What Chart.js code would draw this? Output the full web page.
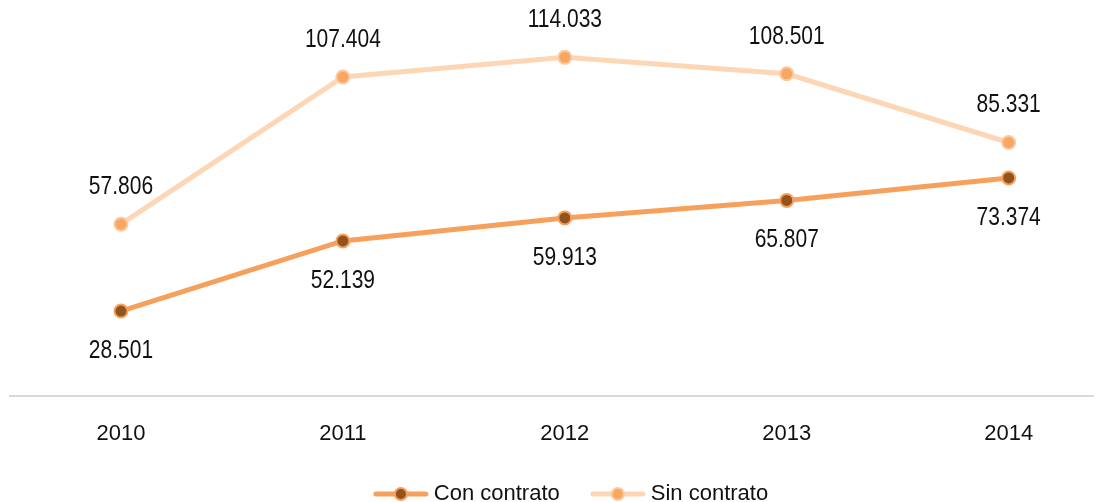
<!DOCTYPE html>
<html>
<head>
<meta charset="utf-8">
<script src="https://cdn.jsdelivr.net/npm/chart.js@4"></script>
<style>
    html, body { margin: 0; padding: 0; background: #fff; }
    #wrap { width: 1109px; height: 502px; }
</style>
</head>
<body>
<div id="wrap"><canvas id="lineChart"></canvas></div>
<script>
const years = ['2010', '2011', '2012', '2013', '2014'];
const conContrato = [28.501, 52.139, 59.913, 65.807, 73.374];
const sinContrato = [57.806, 107.404, 114.033, 108.501, 85.331];

const FONT = "'Liberation Sans', Arial, sans-serif";

function fmt(v) {
    return v.toFixed(3);
}

// legend swatch: short line with a dot in the middle
function legendSwatch(lineColor, fill, border) {
    const c = document.createElement('canvas');
    c.width = 56;
    c.height = 16;
    const g = c.getContext('2d');
    g.strokeStyle = lineColor;
    g.lineWidth = 5;
    g.lineCap = 'round';
    g.beginPath();
    g.moveTo(3, 8);
    g.lineTo(53, 8);
    g.stroke();
    g.beginPath();
    g.arc(28, 8, 6, 0, Math.PI * 2);
    g.fillStyle = fill;
    g.fill();
    g.lineWidth = 2;
    g.strokeStyle = border;
    g.stroke();
    return c;
}

// value labels, squeezed horizontally to look like the narrow face of the original
const valueLabels = {
    id: 'valueLabels',
    afterLayout(chart) {
        // nudge the legend a bit to the right
        if (chart.legend) {
            chart.legend.left += 22;
            chart.legend.right += 22;
        }
    },
    afterDatasetsDraw(chart) {
        const ctx = chart.ctx;
        chart.data.datasets.forEach((ds, i) => {
            const meta = chart.getDatasetMeta(i);
            meta.data.forEach((pt, j) => {
                const dy = ds.labelPos === 'above' ? -37 : 40;
                ctx.save();
                ctx.translate(pt.x, pt.y + dy);
                ctx.scale(0.84, 1);
                ctx.font = '25px ' + FONT;
                ctx.fillStyle = '#111';
                ctx.textAlign = 'center';
                ctx.textBaseline = 'middle';
                ctx.fillText(fmt(ds.data[j].y), 0, 0);
                ctx.restore();
            });
        });
    }
};

function toPoints(arr) {
    return arr.map((v, i) => ({ x: i, y: v }));
}

new Chart(document.getElementById('lineChart'), {
    type: 'line',
    data: {
        datasets: [{
            label: 'Con contrato',
            data: toPoints(conContrato),
            labelPos: 'below',
            borderColor: '#F7A05C',
            borderWidth: 5,
            pointBackgroundColor: '#93531F',
            pointBorderColor: '#F7A05C',
            pointBorderWidth: 2,
            pointRadius: 6.5,
            tension: 0
        }, {
            label: 'Sin contrato',
            data: toPoints(sinContrato),
            labelPos: 'above',
            borderColor: '#FDD7B5',
            borderWidth: 5,
            pointBackgroundColor: '#F8A763',
            pointBorderColor: '#FCC99C',
            pointBorderWidth: 2,
            pointRadius: 6.5,
            tension: 0
        }]
    },
    options: {
        responsive: true,
        maintainAspectRatio: false,
        animation: false,
        layout: { padding: { top: 10, left: 10, right: 16, bottom: -13 } },
        plugins: {
            tooltip: { enabled: false },
            legend: {
                position: 'bottom',
                labels: {
                    font: { family: FONT, size: 22 },
                    color: '#111',
                    usePointStyle: true,
                    pointStyleWidth: 44,
                    padding: 36,
                    boxHeight: 16,
                    generateLabels: function(chart) {
                        return chart.data.datasets.map((ds, i) => ({
                            text: ds.label,
                            datasetIndex: i,
                            fontColor: '#111',
                            pointStyle: legendSwatch(ds.borderColor, ds.pointBackgroundColor, ds.pointBorderColor),
                            lineWidth: 0,
                            strokeStyle: 'rgba(0,0,0,0)',
                            fillStyle: 'rgba(0,0,0,0)'
                        }));
                    }
                }
            }
        },
        scales: {
            x: {
                type: 'linear',
                min: -0.5,
                max: 4.38,
                afterBuildTicks: function(scale) {
                    scale.ticks = years.map((y, i) => ({ value: i }));
                },
                afterFit: function(scale) {
                    scale.height -= 17;
                },
                ticks: {
                    font: { family: FONT, size: 22 },
                    color: '#111',
                    padding: 17,
                    maxRotation: 0,
                    callback: function(value) {
                        return years[value];
                    }
                },
                grid: { display: false },
                border: { display: true, color: '#D9D9D9', width: 2 }
            },
            y: {
                min: 0,
                max: 130,
                display: false
            }
        }
    },
    plugins: [valueLabels]
});
</script>
</body>
</html>
